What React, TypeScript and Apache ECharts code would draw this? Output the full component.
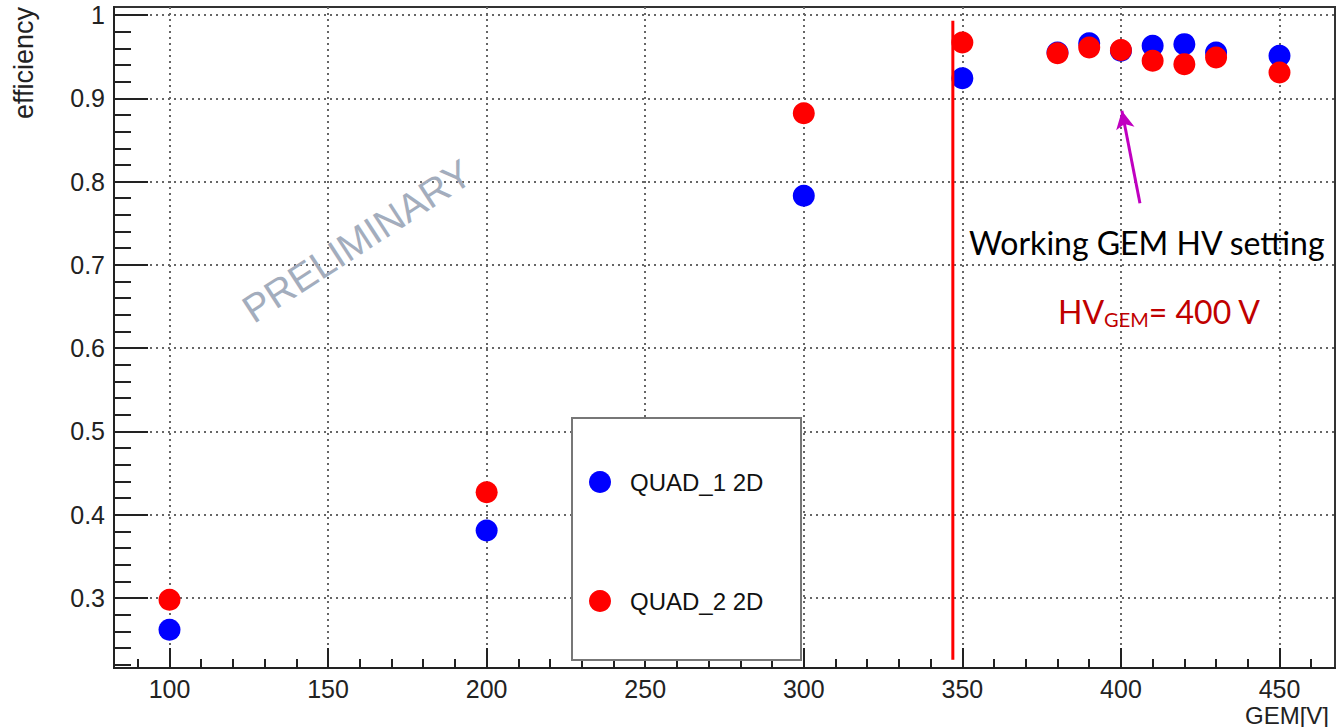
import { useEffect, useRef } from 'react';
import * as echarts from 'echarts';

const gemVoltage = [100, 200, 300, 350, 380, 390, 400, 410, 420, 430, 450];
const quad1 = [0.262, 0.381, 0.783, 0.924, 0.955, 0.966, 0.957, 0.963, 0.965, 0.955, 0.951];
const quad2 = [0.298, 0.427, 0.882, 0.967, 0.954, 0.961, 0.958, 0.945, 0.941, 0.949, 0.931];
const seriesNames = ['QUAD_1 2D', 'QUAD_2 2D'];
const xMajorTicks = [100, 150, 200, 250, 300, 350, 400, 450];
const yMajorTicks = [0.3, 0.4, 0.5, 0.6, 0.7, 0.8, 0.9, 1];
const xRange = [82.5, 467.5];
const yRange = [0.216, 1.0096];
const thresholdLine = [[347, 0.993], [347, 0.226]];
const arrowFrom = [406, 0.774];
const arrowTo = [400.3, 0.885];

const xMinorTicks: number[] = [];
for (let v = 90; v <= 460; v += 10) xMinorTicks.push(v);
const yMinorTicks: number[] = [];
for (let k = 0; k <= 39; k++) yMinorTicks.push(Math.round((0.22 + k * 0.02) * 1000) / 1000);

const FONT = 'Liberation Sans';

export default function App() {
  const ref = useRef<HTMLDivElement>(null);
  useEffect(() => {
    if (!ref.current) return;
    const chart = echarts.init(ref.current, null, { renderer: 'svg' });
    const toPairs = (ys: number[]) => gemVoltage.map((x, i) => [x, ys[i]]);
    const axisCommon = {
      type: 'value' as const,
      axisLine: { show: true, onZero: false, lineStyle: { color: '#222', width: 2 } },
    };
    chart.setOption({
      animation: false,
      backgroundColor: '#fff',
      grid: {
        left: 114, right: 1, top: 7, bottom: 59,
        show: true, borderColor: '#333', borderWidth: 2,
      },
      xAxis: [
        {
          ...axisCommon,
          min: xRange[0], max: xRange[1],
          axisTick: { show: true, inside: true, length: 20, customValues: xMajorTicks, lineStyle: { color: '#222', width: 2 } },
          axisLabel: { customValues: xMajorTicks, margin: 8, fontSize: 25, color: '#222', fontFamily: FONT },
          splitLine: { show: true, lineStyle: { color: '#666', width: 2, type: [2, 4] } },
        },
        {
          type: 'value', min: xRange[0], max: xRange[1], position: 'bottom',
          axisLine: { show: false },
          axisLabel: { show: false },
          splitLine: { show: false },
          axisTick: { show: true, inside: true, length: 9, customValues: xMinorTicks, lineStyle: { color: '#222', width: 2 } },
        },
      ],
      yAxis: [
        {
          ...axisCommon,
          min: yRange[0], max: yRange[1],
          axisTick: { show: true, inside: true, length: 34, customValues: yMajorTicks, lineStyle: { color: '#222', width: 2 } },
          axisLabel: { customValues: yMajorTicks, margin: 9, fontSize: 25, color: '#222', fontFamily: FONT },
          splitLine: { show: true, lineStyle: { color: '#666', width: 2, type: [2, 4] } },
        },
        {
          type: 'value', min: yRange[0], max: yRange[1], position: 'left',
          axisLine: { show: false },
          axisLabel: { show: false },
          splitLine: { show: false },
          axisTick: { show: true, inside: true, length: 17, customValues: yMinorTicks, lineStyle: { color: '#222', width: 2 } },
        },
      ],
      legend: {
        data: seriesNames,
        orient: 'vertical',
        left: 584, top: 465,
        itemWidth: 50, itemHeight: 22, itemGap: 95,
        icon: 'circle',
        z: 6,
        textStyle: { fontSize: 24, color: '#111', fontFamily: FONT },
      },
      series: [
        {
          name: seriesNames[0], type: 'scatter', symbol: 'circle', symbolSize: 22,
          itemStyle: { color: '#0000ff', opacity: 1 }, data: toPairs(quad1), z: 2,
        },
        {
          name: seriesNames[1], type: 'scatter', symbol: 'circle', symbolSize: 22,
          itemStyle: { color: '#ff0000', opacity: 1 }, data: toPairs(quad2), z: 3,
        },
        {
          name: 'threshold', type: 'line', data: thresholdLine, symbol: 'none', z: 4,
          lineStyle: { color: '#ff0000', width: 3 },
        },
        {
          name: 'arrow', type: 'line', data: [], z: 4,
          markLine: {
            silent: true, animation: false,
            symbol: ['none', 'arrow'], symbolSize: [14, 18],
            lineStyle: { color: '#c000c0', width: 3, type: 'solid' },
            label: { show: false },
            data: [[{ coord: arrowFrom }, { coord: arrowTo }]],
          },
        },
      ],
      graphic: {
        elements: [
          {
            type: 'rect', z: 5,
            shape: { x: 572, y: 418, width: 229, height: 242 },
            style: { fill: '#fff', stroke: '#777', lineWidth: 2 },
          },
          {
            type: 'text', z: 10, x: 24, y: 7, rotation: Math.PI / 2,
            style: { text: 'efficiency', fontSize: 27, fontFamily: FONT, fill: '#222', align: 'right', verticalAlign: 'middle' },
          },
          {
            type: 'text', z: 10, x: 1329, y: 715,
            style: { text: 'GEM[V]', fontSize: 24, fontFamily: FONT, fill: '#222', align: 'right', verticalAlign: 'middle' },
          },
          {
            type: 'text', z: 10, x: 357, y: 241, rotation: (33 * Math.PI) / 180,
            style: { text: 'PRELIMINARY', fontSize: 39, fontFamily: FONT, fill: '#a3adbd', align: 'center', verticalAlign: 'middle' },
          },
          {
            type: 'text', z: 10, x: 969, y: 242,
            style: { text: 'Working GEM HV setting', fontSize: 32, fontFamily: 'Lato', fill: '#000', align: 'left', verticalAlign: 'middle' },
          },
          {
            type: 'text', z: 10, x: 1058, y: 311,
            style: {
              text: '{a|HV}{b|GEM}{a|= 400 V}',
              fontFamily: 'Lato', fill: '#c00000', align: 'left', verticalAlign: 'middle',
              rich: {
                a: { fontSize: 32, fontFamily: 'Lato', fill: '#c00000', color: '#c00000' },
                b: { fontSize: 20, fontFamily: 'Lato', fill: '#c00000', color: '#c00000', padding: [16, 0, 0, 0] },
              },
            },
          },
        ],
      },
    });
    return () => chart.dispose();
  }, []);
  return <div ref={ref} style={{ position: 'fixed', left: 0, top: 0, width: 1336, height: 727 }} />;
}
